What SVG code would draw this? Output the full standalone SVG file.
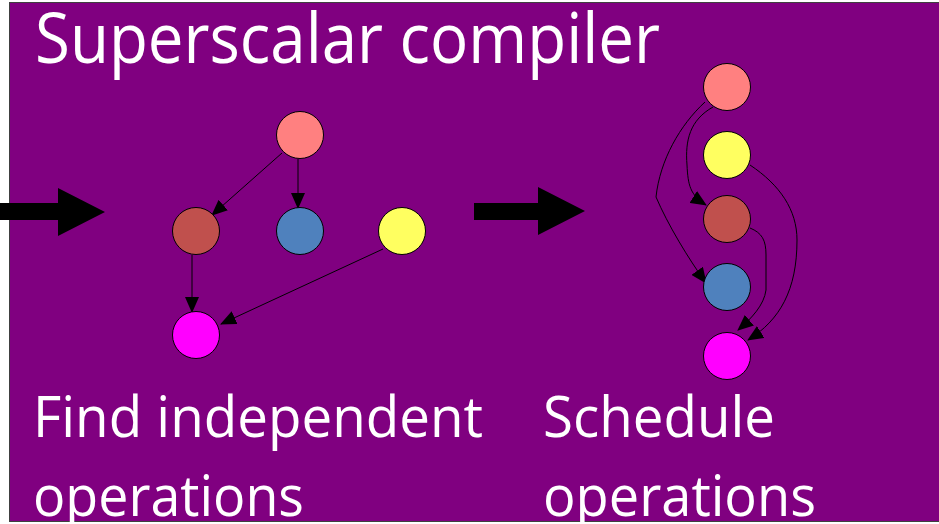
<svg xmlns="http://www.w3.org/2000/svg" width="939" height="524" viewBox="0 0 939 524">
  <defs>
    <marker id="head" markerUnits="userSpaceOnUse" markerWidth="16" markerHeight="14" refX="15" refY="7" orient="auto">
      <path d="M0,0 L16,7 L0,14 Z" fill="#000"/>
    </marker>
    <style>
      .label { font-family: "Open Sans", "Noto Sans", sans-serif; fill: #fff; }
      .node circle { stroke: #000; stroke-width: 1; }
      .edge { fill: none; stroke: #000; stroke-width: 1; marker-end: url(#head); }
      .big { fill: #000; }
    </style>
  </defs>

  <!-- page and slide background -->
  <rect x="0" y="0" width="939" height="524" fill="#fff"/>
  <rect x="9.5" y="2.5" width="935" height="519" fill="#800080" stroke="#404040" stroke-width="1"/>

  <!-- headings -->
  <text class="label" x="35" y="63" font-size="70" textLength="625" lengthAdjust="spacingAndGlyphs">Superscalar compiler</text>
  <text class="label" x="33" y="437" font-size="56" textLength="450" lengthAdjust="spacingAndGlyphs">Find independent</text>
  <text class="label" x="33" y="516" font-size="56" textLength="271" lengthAdjust="spacingAndGlyphs">operations</text>
  <text class="label" x="543" y="437" font-size="56" textLength="232" lengthAdjust="spacingAndGlyphs">Schedule</text>
  <text class="label" x="543" y="516" font-size="56" textLength="273" lengthAdjust="spacingAndGlyphs">operations</text>

  <!-- block arrows -->
  <path class="big" d="M0,203 L58,203 L58,188 L105,212 L58,236 L58,220 L0,220 Z"/>
  <path class="big" d="M474,203 L538,203 L538,187 L585,211 L538,235 L538,220 L474,220 Z"/>

  <!-- dependency edges -->
  <g id="connectors">
    <line class="edge" x1="282" y1="153" x2="212" y2="215"/>
    <line class="edge" x1="298" y1="159" x2="298" y2="208"/>
    <line class="edge" x1="192" y1="255" x2="192" y2="312"/>
    <line class="edge" x1="383" y1="249" x2="221" y2="324"/>
    <path class="edge" d="M713,107 C690,120 685,140 687,165 C688,185 690,195 706,205"/>
    <path class="edge" d="M705,102 C680,125 660,160 656,197 C668,225 688,258 706,283"/>
    <path class="edge" d="M750,165 C780,185 797,210 797,240 C797,290 780,320 748,340"/>
    <path class="edge" d="M750,228 C762,233 766,240 766,255 L766,290 C764,305 752,318 738,330"/>
  </g>

  <!-- unordered operations -->
  <g id="a-op" class="node"><circle cx="300" cy="135" r="23.5" fill="#FF8080"/></g>
  <g id="b-op" class="node"><circle cx="196" cy="231" r="23.5" fill="#C0504D"/></g>
  <g id="c-op" class="node"><circle cx="300" cy="231" r="23.5" fill="#4F81BD"/></g>
  <g id="d-op" class="node"><circle cx="402" cy="231" r="23.5" fill="#FFFF60"/></g>
  <g id="e-op" class="node"><circle cx="196" cy="335" r="23.5" fill="#FF00FF"/></g>

  <!-- scheduled operations -->
  <g id="a-sched" class="node"><circle cx="727" cy="87" r="23.5" fill="#FF8080"/></g>
  <g id="d-sched" class="node"><circle cx="727" cy="155" r="23.5" fill="#FFFF60"/></g>
  <g id="b-sched" class="node"><circle cx="727" cy="219" r="23.5" fill="#C0504D"/></g>
  <g id="c-sched" class="node"><circle cx="727" cy="287" r="23.5" fill="#4F81BD"/></g>
  <g id="e-sched" class="node"><circle cx="727" cy="356" r="23.5" fill="#FF00FF"/></g>
</svg>
